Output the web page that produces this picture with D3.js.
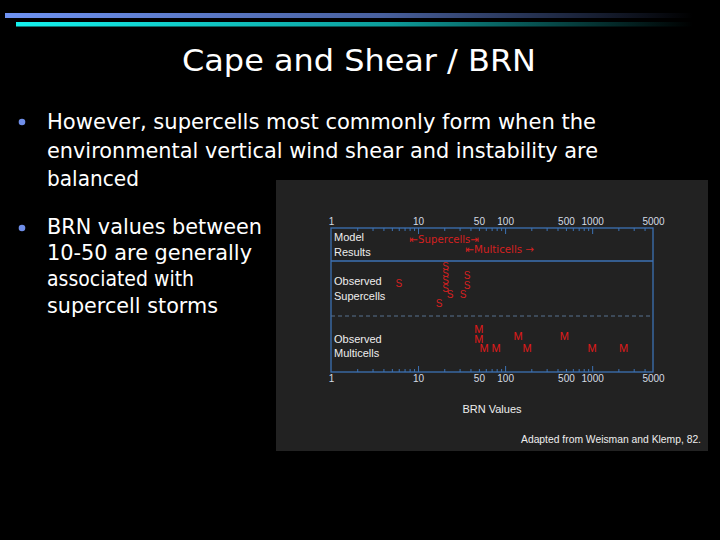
<!DOCTYPE html>
<html>
<head>
<meta charset="utf-8">
<script src="https://cdn.jsdelivr.net/npm/d3@7"></script>
<style>
html,body{margin:0;padding:0;background:#000;}
svg{display:block;}
</style>
</head>
<body>
<svg id="c" width="720" height="540"></svg>
<script>
// ---- data ----
const titleText = "Cape and Shear / BRN";
const bullet1 = ["However, supercells most commonly form when the",
                 "environmental vertical wind shear and instability are",
                 "balanced"];
const bullet2 = ["BRN values between", "10-50 are generally", "associated with", "supercell storms"];
const tickLabels = [1, 10, 50, 100, 500, 1000, 5000];
const majorTicks = [10, 100, 1000];
const rowLabels = [["Model", "Results"], ["Observed", "Supercells"], ["Observed", "Multicells"]];
const modelRanges = [
  {label: "\u21E4Supercells\u21E5", from: 8, to: 50},
  {label: "\u21E4Multicells \u2192", from: 35, to: 215}
];
const sValues = [6, 20.7, 20.7, 20.7, 20.7, 23.3, 17.4, 36.6, 36.6, 33];
const sRows   = [2.4, 0, 1, 2, 3, 3.9, 5, 1.3, 2.6, 3.9];
const mValues = [50, 50, 57.5, 79, 141, 179, 478, 1000, 2290];
const mRows   = [0, 1, 2, 2, 0.75, 2, 0.75, 2, 2];
const xTitle = "BRN Values";
const credit = "Adapted from Weisman and Klemp, 82.";

// ---- drawing ----
const svg = d3.select("#c");
const defs = svg.append("defs");
function grad(id, c) {
  const g = defs.append("linearGradient").attr("id", id).attr("x1", "0%").attr("x2", "100%");
  g.append("stop").attr("offset", "0%").attr("stop-color", c);
  g.append("stop").attr("offset", "55%").attr("stop-color", d3.interpolateRgb(c, "#000")(0.35));
  g.append("stop").attr("offset", "100%").attr("stop-color", "#000");
}
grad("gBlue", "#6f93f2");
grad("gCyan", "#14f2ee");
svg.append("rect").attr("x", 5).attr("y", 13).attr("width", 688).attr("height", 5).attr("fill", "url(#gBlue)");
svg.append("rect").attr("x", 16).attr("y", 22).attr("width", 677).attr("height", 4.5).attr("fill", "url(#gCyan)");

const slideFont = "'DejaVu Sans', Verdana, sans-serif";
svg.append("text").attr("x", 359).attr("y", 71).attr("text-anchor", "middle")
  .attr("font-family", slideFont).attr("font-size", 30).attr("fill", "#fff")
  .attr("textLength", 354).attr("lengthAdjust", "spacingAndGlyphs").text(titleText);

const b1Len = [549, 551, 92];
const b2Len = [215, 205, 147, 171];
svg.append("circle").attr("cx", 22).attr("cy", 122).attr("r", 3.3).attr("fill", "#6f8ee8");
svg.append("circle").attr("cx", 22).attr("cy", 228).attr("r", 3.3).attr("fill", "#6f8ee8");
bullet1.forEach((t, i) => {
  svg.append("text").attr("x", 47).attr("y", 129 + i * 28.6)
    .attr("font-family", slideFont).attr("font-size", 21).attr("fill", "#fff")
    .attr("textLength", b1Len[i]).attr("lengthAdjust", "spacingAndGlyphs").text(t);
});
bullet2.forEach((t, i) => {
  svg.append("text").attr("x", 47).attr("y", 234 + i * 26.2)
    .attr("font-family", slideFont).attr("font-size", 21).attr("fill", "#fff")
    .attr("textLength", b2Len[i]).attr("lengthAdjust", "spacingAndGlyphs").text(t);
});

// embedded chart panel
svg.append("rect").attr("x", 276).attr("y", 180).attr("width", 432).attr("height", 271).attr("fill", "#222222");

const chartFont = "'Liberation Sans', Arial, sans-serif";
const x = d3.scaleLog().domain([1, 5000]).range([331, 653]);
const yTop = 228, yBottom = 372, sep1 = 261, sep2 = 316;
const boxColor = "#3c72b4";

const minorTicks = [];
[1, 10, 100, 1000].forEach(d => { for (let k = 2; k <= 9; k++) { const v = d * k; if (v < 5000) minorTicks.push(v); } });

function tickAxis(gen, y, vals, size) {
  const g = svg.append("g").attr("transform", `translate(0,${y})`)
    .call(gen(x).tickValues(vals).tickSize(size).tickFormat(""));
  g.select(".domain").remove();
  g.selectAll("line").attr("stroke", boxColor).attr("stroke-width", 1);
}
tickAxis(d3.axisBottom, yTop, minorTicks, 3);
tickAxis(d3.axisBottom, yTop, majorTicks, 6);
tickAxis(d3.axisTop, yBottom, minorTicks, 3);
tickAxis(d3.axisTop, yBottom, majorTicks, 6);

function labelAxis(gen, y) {
  const g = svg.append("g").attr("transform", `translate(0,${y})`)
    .call(gen(x).tickValues(tickLabels).tickSize(0).tickPadding(2).tickFormat(d3.format("d")));
  g.select(".domain").remove();
  g.selectAll("text").attr("font-family", chartFont).attr("font-size", 10).attr("fill", "#d4dbe4");
}
labelAxis(d3.axisTop, yTop - 1);
labelAxis(d3.axisBottom, yBottom + 1);

// box
svg.append("rect").attr("x", x(1)).attr("y", yTop).attr("width", x(5000) - x(1)).attr("height", yBottom - yTop)
  .attr("fill", "none").attr("stroke", boxColor).attr("stroke-width", 1.3);
svg.append("line").attr("x1", x(1)).attr("x2", x(5000)).attr("y1", sep1).attr("y2", sep1)
  .attr("stroke", boxColor).attr("stroke-width", 1.3);
svg.append("line").attr("x1", x(1)).attr("x2", x(5000)).attr("y1", sep2).attr("y2", sep2)
  .attr("stroke", "#56708e").attr("stroke-width", 1).attr("stroke-dasharray", "4,3");

// row labels
const rowY = [[241, 256], [285, 300], [343, 357]];
rowLabels.forEach((pair, i) => pair.forEach((t, j) => {
  svg.append("text").attr("x", 334).attr("y", rowY[i][j]).attr("font-family", chartFont)
    .attr("font-size", 11).attr("fill", "#eeeeee").text(t);
}));

// model ranges
const red = "#d42020";
svg.selectAll(".mr").data(modelRanges).enter().append("text")
  .attr("x", d => x(d.from)).attr("y", (d, i) => 243 + i * 10)
  .attr("font-family", "'DejaVu Sans', sans-serif").attr("font-size", 10.5).attr("fill", red)
  .attr("textLength", d => x(d.to) - x(d.from)).attr("lengthAdjust", "spacingAndGlyphs")
  .text(d => d.label);

// observed supercells
const sY = d3.scaleLinear().domain([0, 5]).range([266, 303]);
svg.selectAll(".s").data(sValues).enter().append("text")
  .attr("x", d => x(d)).attr("y", (d, i) => sY(sRows[i]) + 3.5)
  .attr("text-anchor", "middle").attr("font-family", chartFont).attr("font-size", 10)
  .attr("fill", red).text("S");

// observed multicells
const mY = d3.scaleLinear().domain([0, 2]).range([329, 348]);
svg.selectAll(".m").data(mValues).enter().append("text")
  .attr("x", d => x(d)).attr("y", (d, i) => mY(mRows[i]) + 4)
  .attr("text-anchor", "middle").attr("font-family", chartFont).attr("font-size", 11)
  .attr("fill", "#e01a1a").text("M");

svg.append("text").attr("x", 492).attr("y", 413).attr("text-anchor", "middle")
  .attr("font-family", chartFont).attr("font-size", 11).attr("fill", "#eeeeee").text(xTitle);
svg.append("text").attr("x", 521).attr("y", 443)
  .attr("font-family", chartFont).attr("font-size", 11).attr("fill", "#eeeeee")
  .attr("textLength", 180).attr("lengthAdjust", "spacingAndGlyphs").text(credit);
</script>
</body>
</html>
